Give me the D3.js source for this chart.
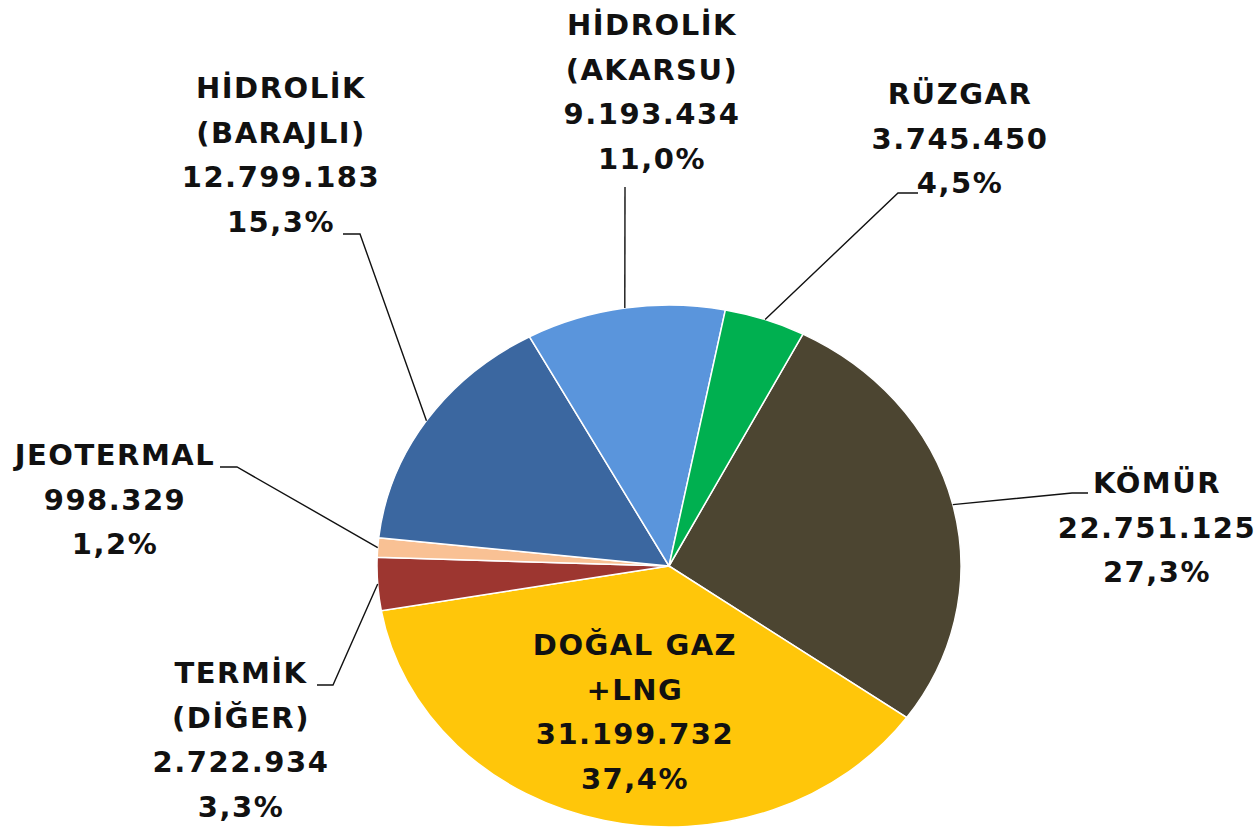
<!DOCTYPE html>
<html>
<head>
<meta charset="utf-8">
<script src="https://cdn.jsdelivr.net/npm/d3@7"></script>
<style>
  body { margin: 0; background: #fff; }
  svg text { font-family: "DejaVu Sans", sans-serif; font-weight: bold; font-size: 29px; letter-spacing: 1.5px; fill: #111; }
</style>
</head>
<body>
<div id="chart"></div>
<script>
// kaynak bazında kurulu güç / üretim
var categories = ['KÖMÜR', 'DOĞAL GAZ|+LNG', 'TERMİK|(DİĞER)', 'JEOTERMAL', 'HİDROLİK|(BARAJLI)', 'HİDROLİK|(AKARSU)', 'RÜZGAR'];
var values = [22751125, 31199732, 2722934, 998329, 12799183, 9193434, 3745450];
var colors = ['#4c4531', '#ffc60a', '#9d3630', '#f9c194', '#3b67a0', '#5a95dc', '#00b050'];

// label layout: centre x, first baseline, leader knee + end (null = label inside slice)
var labelPos = [
  { x: 1157, y: 493, knee: [1072, 493], end: [1088, 493] },
  { x: 635,  y: 655, knee: null },
  { x: 241,  y: 683, knee: [333, 685], end: [317, 685] },
  { x: 115,  y: 465, knee: [237, 467], end: [220, 467] },
  { x: 281,  y: 98,  knee: [360, 234], end: [343, 234] },
  { x: 652,  y: 35,  knee: [625, 187], end: [625, 187] },
  { x: 960,  y: 104, knee: [898, 193], end: [918, 193] }
];

var width = 1258, height = 830;
var cx = 669, cy = 566, rx = 292, ry = 261;
var lineH = 44.5;

var trLocale = d3.formatLocale({ decimal: ',', thousands: '.', grouping: [3], currency: ['', ''] });
var fmtNum = trLocale.format(',d');
var fmtPct = trLocale.format('.1%');

var total = d3.sum(values);
var data = categories.map(function(c, i) {
  return { name: c, value: values[i], color: colors[i], pos: labelPos[i] };
});

var a0 = 27.3 * Math.PI / 180;
var pie = d3.pie()
  .sort(null)
  .value(function(d) { return d.value; })
  .startAngle(a0)
  .endAngle(a0 + 2 * Math.PI);

var arc = d3.arc().innerRadius(0).outerRadius(ry);

var svg = d3.select('#chart').append('svg')
  .attr('width', width)
  .attr('height', height);

var arcs = pie(data);

svg.append('g')
  .attr('transform', 'translate(' + cx + ',' + cy + ') scale(' + (rx / ry) + ',1)')
  .selectAll('path')
  .data(arcs)
  .enter().append('path')
  .attr('d', arc)
  .attr('fill', function(d) { return d.data.color; })
  .attr('stroke', '#fff')
  .attr('stroke-width', 1.5)
  .attr('vector-effect', 'non-scaling-stroke');

function edgePoint(d) {
  var a = (d.startAngle + d.endAngle) / 2;
  return [cx + rx * Math.sin(a), cy - ry * Math.cos(a)];
}

// leader lines
svg.append('g')
  .selectAll('path')
  .data(arcs.filter(function(d) { return d.data.pos.knee; }))
  .enter().append('path')
  .attr('d', function(d) {
    var p = edgePoint(d);
    return d3.line()([p, d.data.pos.knee, d.data.pos.end]);
  })
  .attr('fill', 'none')
  .attr('stroke', '#111')
  .attr('stroke-width', 1.4);

// labels
var labels = svg.append('g')
  .selectAll('text')
  .data(arcs)
  .enter().append('text')
  .attr('text-anchor', 'middle');

labels.each(function(d) {
  var lines = d.data.name.split('|');
  lines.push(fmtNum(d.data.value));
  lines.push(fmtPct(d.data.value / total));
  d3.select(this).selectAll('tspan')
    .data(lines)
    .enter().append('tspan')
    .attr('x', d.data.pos.x)
    .attr('y', function(t, i) { return d.data.pos.y + i * lineH; })
    .text(function(t) { return t; });
});
</script>
</body>
</html>
